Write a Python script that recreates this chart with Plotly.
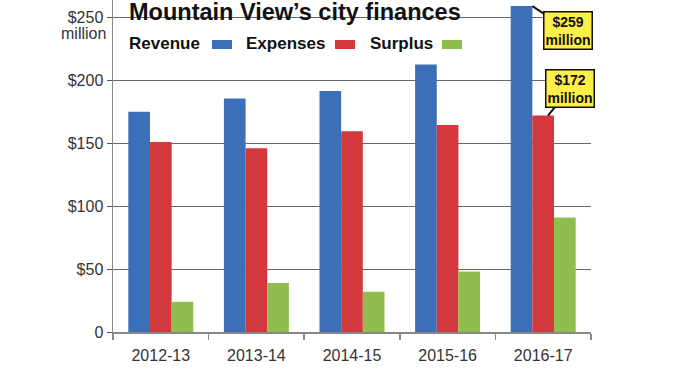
import plotly.graph_objects as go

categories = ["2012-13", "2013-14", "2014-15", "2015-16", "2016-17"]
revenue = [175, 185.5, 191.5, 212.5, 259]
expenses = [151, 146, 159.5, 164.5, 172]
surplus = [24, 39, 32, 48, 91]

ytick_vals = [0, 50, 100, 150, 200, 250]
ytick_text = ["0", "$50", "$100", "$150", "$200", "$250"]

title_text = "Mountain View\u2019s city finances"
series_names = ["Revenue", "Expenses", "Surplus"]
colors = ["#3c6fba", "#d2383c", "#8fbe4e"]

W, H = 678, 381
L, R, T, B = 113, 87, 0, 49
pw = W - L - R
ph = H - T - B

def px(x):
    return (x - L) / pw

def py(y):
    return (H - B - y) / ph

fig = go.Figure()
for name, vals, col in zip(series_names, [revenue, expenses, surplus], colors):
    fig.add_trace(go.Bar(x=categories, y=vals, name=name, marker=dict(color=col, line=dict(width=0)),
                         showlegend=False, hoverinfo="skip"))

font_main = "Liberation Sans, Arial, sans-serif"

annotations = [
    dict(text="<b>" + title_text + "</b>", xref="paper", yref="paper", x=px(127), y=py(12),
         xanchor="left", yanchor="middle", showarrow=False,
         font=dict(family=font_main, size=23.5, color="#111")),
    dict(text="million", xref="paper", yref="paper", x=px(108), y=py(33),
         xanchor="right", yanchor="middle", showarrow=False,
         font=dict(family=font_main, size=16, color="#333")),
]
leg_text_x = [127, 244, 368]
leg_sw_x = [212, 335, 442]
shapes = []
for name, col, tx, sx in zip(series_names, colors, leg_text_x, leg_sw_x):
    annotations.append(dict(text="<b>" + name + "</b>", xref="paper", yref="paper", x=px(tx), y=py(44),
                            xanchor="left", yanchor="middle", showarrow=False,
                            font=dict(family=font_main, size=17, color="#111")))
    shapes.append(dict(type="rect", xref="paper", yref="paper", x0=px(sx), x1=px(sx + 20),
                       y0=py(49), y1=py(40), fillcolor=col, line=dict(width=0)))

bargap = 0.32
bw = (1 - bargap) / 3
last = len(categories) - 1
# callouts
annotations.append(dict(text="<b>$%d<br>million</b>" % round(revenue[-1]), x=last - bw / 2, y=revenue[-1],
                        xref="x", yref="y", ax=36, ay=24, showarrow=True, arrowhead=0, arrowwidth=2,
                        arrowcolor="#111", bgcolor="#fcef4a", bordercolor="#111", borderwidth=1.5,
                        borderpad=1, font=dict(family=font_main, size=14, color="#111")))
annotations.append(dict(text="<b>$%d<br>million</b>" % round(expenses[-1]), x=last + 0.05, y=expenses[-1],
                        xref="x", yref="y", ax=22, ay=-27, showarrow=True, arrowhead=0, arrowwidth=2,
                        arrowcolor="#111", bgcolor="#fcef4a", bordercolor="#111", borderwidth=1.5,
                        borderpad=1, font=dict(family=font_main, size=14, color="#111")))

fig.update_layout(
    width=W, height=H,
    margin=dict(l=L, r=R, t=T, b=B, pad=0, autoexpand=False),
    paper_bgcolor="white", plot_bgcolor="white",
    barmode="group", bargap=bargap, bargroupgap=0,
    annotations=annotations, shapes=shapes,
    font=dict(family=font_main, color="#333"),
    hovermode=False,
)
fig.update_xaxes(type="category", range=[-0.5, 4.5], showline=True, linecolor="#888", linewidth=1.5,
                 ticks="outside", tickson="boundaries", ticklen=6, tickcolor="#888", tickwidth=1.5,
                 ticklabelstandoff=8,
                 tickfont=dict(size=16, color="#333"), showgrid=False, automargin=False)
fig.update_yaxes(range=[0, ph / 1.2583], tickvals=ytick_vals, ticktext=ytick_text,
                 showline=True, linecolor="#888", linewidth=1.5, ticks="outside", ticklen=5,
                 tickcolor="#555", tickfont=dict(size=16, color="#333"),
                 showgrid=True, gridcolor="#666", gridwidth=1, zeroline=False, automargin=False)

fig.write_html("out.html", config={"displayModeBar": False, "staticPlot": True},
               post_script="document.body.style.margin='0';document.body.style.overflow='hidden';")
